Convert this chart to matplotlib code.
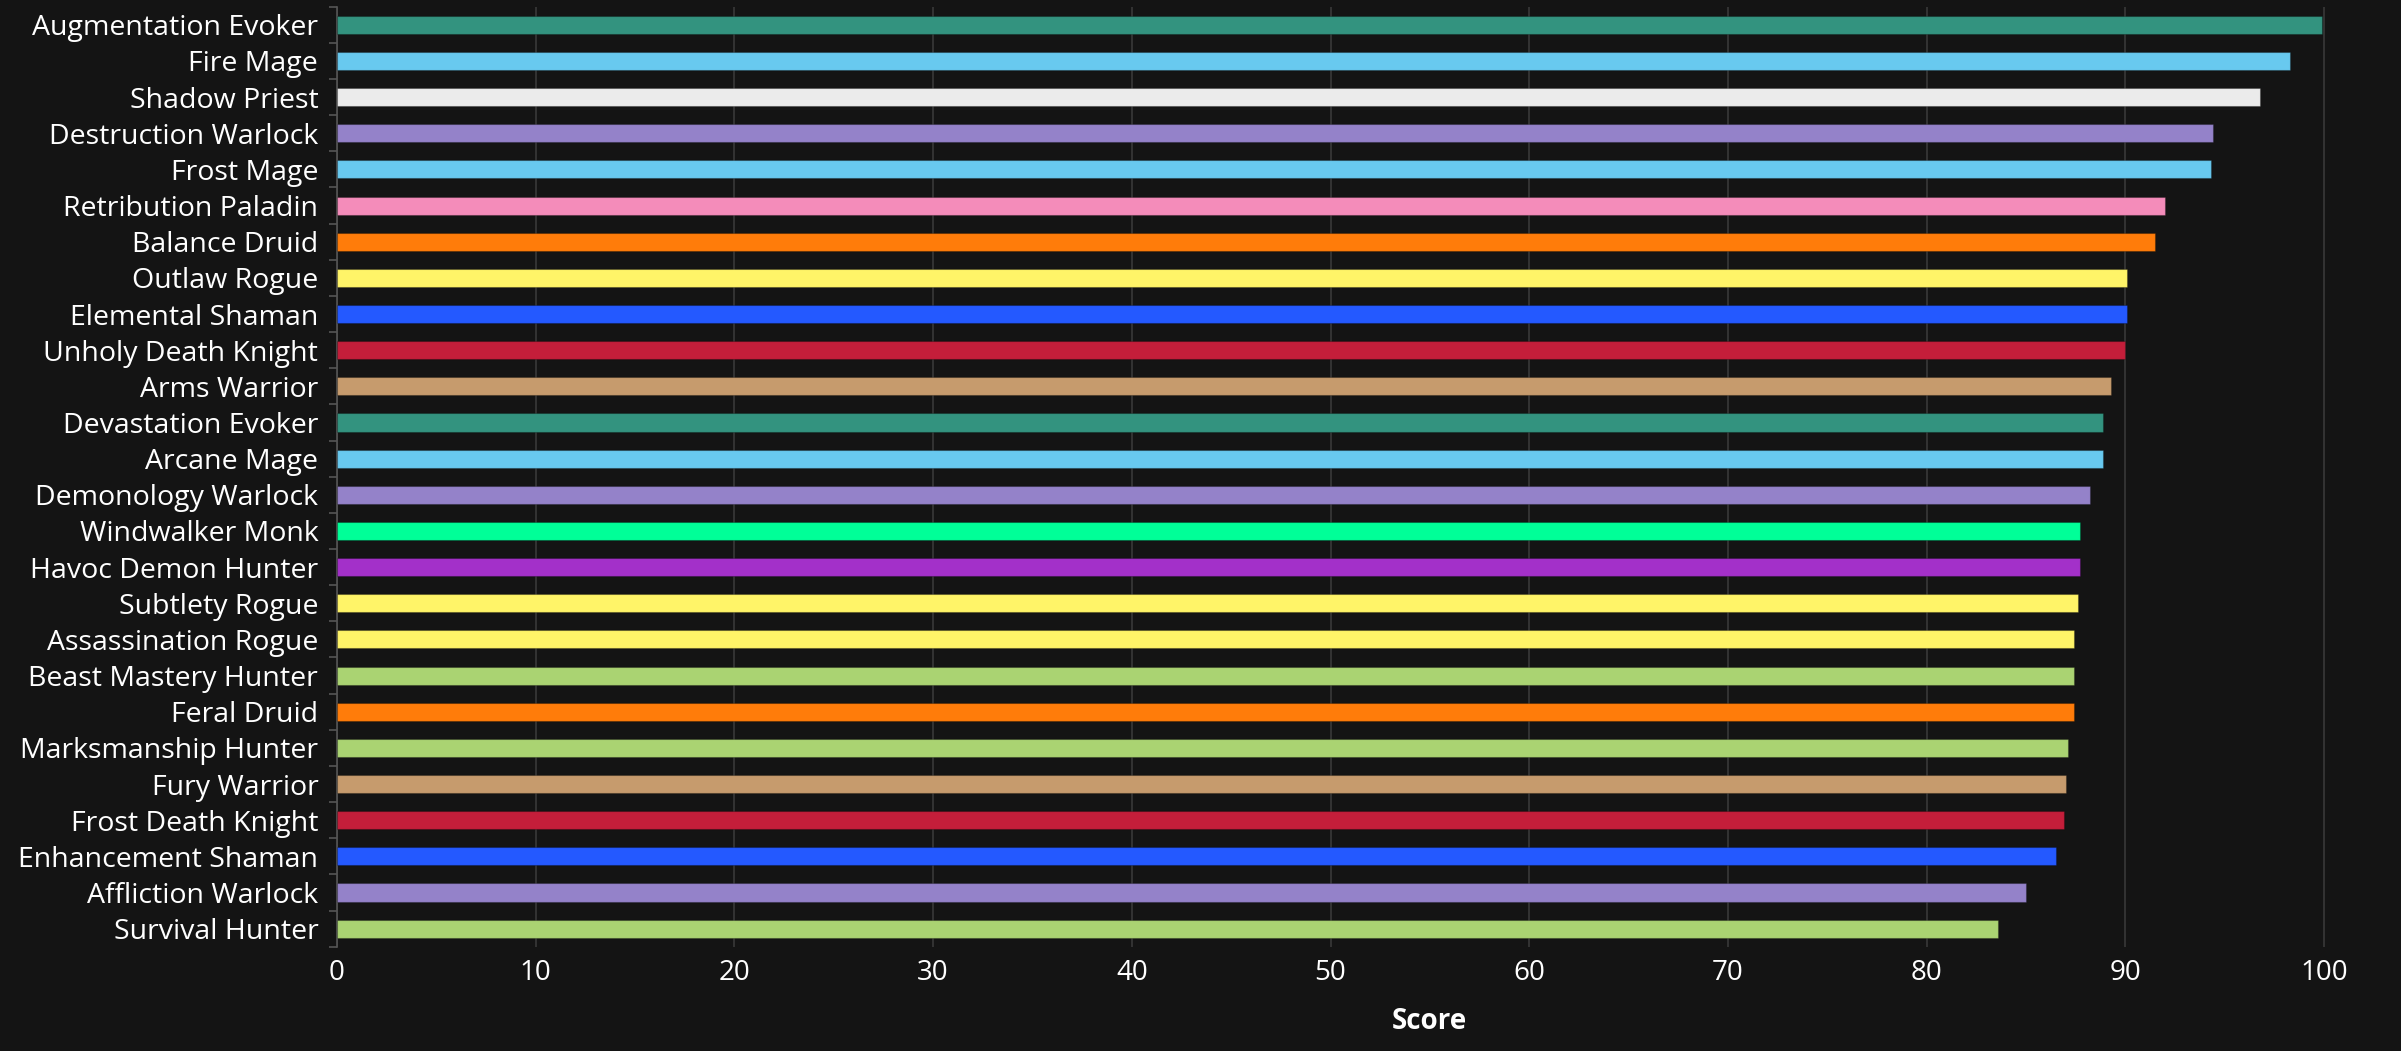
import numpy as np
import matplotlib
matplotlib.use('Agg')
import matplotlib.pyplot as plt
from matplotlib.ticker import FixedLocator

plt.rcParams['font.family'] = ['Open Sans', 'DejaVu Sans']

specs = ['Augmentation Evoker', 'Fire Mage', 'Shadow Priest', 'Destruction Warlock',
         'Frost Mage', 'Retribution Paladin', 'Balance Druid', 'Outlaw Rogue',
         'Elemental Shaman', 'Unholy Death Knight', 'Arms Warrior', 'Devastation Evoker',
         'Arcane Mage', 'Demonology Warlock', 'Windwalker Monk', 'Havoc Demon Hunter',
         'Subtlety Rogue', 'Assassination Rogue', 'Beast Mastery Hunter', 'Feral Druid',
         'Marksmanship Hunter', 'Fury Warrior', 'Frost Death Knight', 'Enhancement Shaman',
         'Affliction Warlock', 'Survival Hunter']
scores = [99.9, 98.3, 96.8, 94.4, 94.3, 92.0, 91.5, 90.1, 90.1, 90.0, 89.3, 88.9,
          88.9, 88.2, 87.7, 87.7, 87.6, 87.4, 87.4, 87.4, 87.1, 87.0, 86.9, 86.5,
          85.0, 83.6]
spec_class = ['Evoker', 'Mage', 'Priest', 'Warlock', 'Mage', 'Paladin', 'Druid', 'Rogue',
              'Shaman', 'Knight', 'Warrior', 'Evoker', 'Mage', 'Warlock', 'Monk', 'DH',
              'Rogue', 'Rogue', 'Hunter', 'Druid', 'Hunter', 'Warrior', 'Knight', 'Shaman',
              'Warlock', 'Hunter']
class_colors = {
    'Evoker': '#33937F', 'Mage': '#68C9EF', 'Priest': '#EBEBEB', 'Warlock': '#9482C9',
    'Paladin': '#F48CBA', 'Druid': '#FF7C0A', 'Rogue': '#FFF468', 'Shaman': '#2459FF',
    'Knight': '#C41E3A', 'Warrior': '#C69B6D', 'Monk': '#00FF98', 'Hunter': '#AAD372',
    'DH': '#A330C9',
}
colors = [class_colors[c] for c in spec_class]

bg = '#141414'
fig = plt.figure(figsize=(24.01, 10.51), dpi=100, facecolor=bg)
# axis runs 0..110 but the figure is cropped just past 100
ax = fig.add_axes([337 / 2401, 104.3 / 1051, (2522.7 - 337) / 2401, 940 / 1051])
ax.set_facecolor(bg)

y = np.arange(len(specs))
ax.barh(y, scores, height=0.5, color=colors, edgecolor='#00000040', linewidth=0.8, zorder=3)

ax.set_xlim(0, 110)
ax.set_ylim(len(specs) - 0.5, -0.5)
ax.set_xticks(np.arange(0, 101, 10))
ax.set_yticks(y)
ax.set_yticklabels(specs)
ax.yaxis.set_minor_locator(FixedLocator(np.arange(-0.5, len(specs), 1)))

ax.tick_params(axis='y', which='major', length=0, pad=13.5, labelsize=20.5, labelcolor='white')
ax.tick_params(axis='y', which='minor', length=6, width=1.2, color='#555555')
ax.tick_params(axis='x', length=0, pad=9, labelsize=20, labelcolor='white')

ax.grid(axis='x', color='#333333', linewidth=1.4, zorder=0)
ax.set_axisbelow(True)
for s in ['top', 'right', 'bottom']:
    ax.spines[s].set_visible(False)
ax.spines['left'].set_color('#555555')
ax.spines['left'].set_linewidth(1.2)

ax.set_xlabel('Score', fontsize=20, fontweight='bold', color='white', labelpad=14)

fig.savefig('out.png', dpi=100, facecolor=bg)
